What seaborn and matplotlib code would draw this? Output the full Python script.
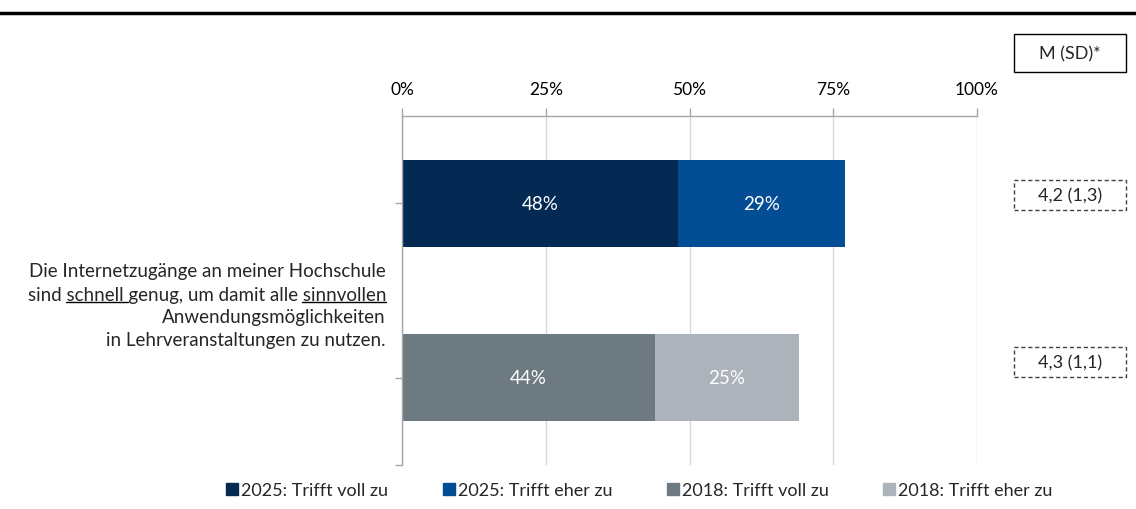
import matplotlib
matplotlib.use('agg')
import matplotlib.pyplot as plt
from matplotlib.lines import Line2D
from matplotlib.patches import Rectangle
import pandas as pd
import seaborn as sns

# data
years = ["2025", "2018"]
voll = [48, 44]   # Trifft voll zu
eher = [29, 25]   # Trifft eher zu
msd = ["4,2 (1,3)", "4,3 (1,1)"]
voll_colors = ["#042a54", "#6d7a82"]
eher_colors = ["#034d94", "#adb3ba"]
legend_labels = ["2025: Trifft voll zu", "2025: Trifft eher zu",
                 "2018: Trifft voll zu", "2018: Trifft eher zu"]
item_lines = ["Die Internetzugänge an meiner Hochschule",
              "sind schnell genug, um damit alle sinnvollen",
              "Anwendungsmöglichkeiten",
              "in Lehrveranstaltungen zu nutzen."]
underlined = {1: ["schnell ", "sinnvollen"]}
xticks = [0, 25, 50, 75, 100]

sns.set_theme(style="white")
plt.rcParams['font.family'] = ['Lato', 'DejaVu Sans']
FS = 13.5

df = pd.DataFrame({"year": years, "voll": voll, "eher": eher})
df["total"] = df["voll"] + df["eher"]

fig = plt.figure(figsize=(11.36, 5.10), dpi=100)
ax = fig.add_axes([402 / 1136, 1 - 466 / 510, 575 / 1136, 349 / 510])

# stacked bars: total first (eher colour), then voll on top
sns.barplot(data=df, x="total", y="year", hue="year", palette=eher_colors,
            width=0.5, legend=False, ax=ax, orient="h", saturation=1)
sns.barplot(data=df, x="voll", y="year", hue="year", palette=voll_colors,
            width=0.5, legend=False, ax=ax, orient="h", saturation=1)

n = len(years)
for i, cont in enumerate(ax.containers):
    src = eher if i < n else voll
    idx = i % n
    bar = cont.patches[0]
    bar.set_linewidth(0)
    # centre of the visible segment
    if i < n:
        xc = voll[idx] + eher[idx] / 2
    else:
        xc = voll[idx] / 2
    ax.text(xc, bar.get_y() + bar.get_height() / 2, f"{src[idx]}%",
            ha="center", va="center", color="white", fontsize=FS)

ax.set_xlim(0, 100)
ax.set_ylim(1.5, -0.5)
ax.xaxis.tick_top()
ax.set_xticks(xticks)
ax.set_xticklabels([f"{t}%" for t in xticks])
ax.set_yticks([0, 1, 1.5])
ax.set_yticklabels(["", "", ""])
ax.set_xlabel("")
ax.set_ylabel("")
ax.tick_params(axis="x", direction="out", length=6, width=1, color="#a6a6a6",
               pad=8, labelsize=12.5, colors="#a6a6a6", labelcolor="black")
ax.tick_params(axis="y", direction="out", length=5, width=1, color="#a6a6a6", left=True)
ax.grid(axis="x", color="#d9d9d9", linewidth=1)
ax.set_axisbelow(True)
for s in ["right", "bottom"]:
    ax.spines[s].set_visible(False)
for s in ["top", "left"]:
    ax.spines[s].set_color("#a6a6a6")
    ax.spines[s].set_linewidth(1)

# top rule
fig.add_artist(Line2D([0, 1], [1 - 14 / 510, 1 - 14 / 510], color="black", linewidth=2.5))

# item label, right-aligned with underlined words
fig.canvas.draw()
renderer = fig.canvas.get_renderer()
x_right = 386 / 1136
for k, line in enumerate(item_lines):
    y = 1 - (272 + 23 * k) / 510
    t = fig.text(x_right, y, line, ha="right", va="center", fontsize=FS)
    if k in underlined:
        bb = t.get_window_extent(renderer)
        for word in underlined[k]:
            pre = line[:line.index(word)]
            tp = fig.text(0, 0, pre, fontsize=FS)
            tw = fig.text(0, 0, word, fontsize=FS)
            w_pre = tp.get_window_extent(renderer).width if pre else 0
            w_word = tw.get_window_extent(renderer).width
            tp.remove()
            tw.remove()
            x0 = (bb.x0 + w_pre) / fig.bbox.width
            x1 = (bb.x0 + w_pre + w_word) / fig.bbox.width
            yl = (bb.y0 + 1) / fig.bbox.height
            fig.add_artist(Line2D([x0, x1], [yl, yl], color="black", linewidth=1))

# M (SD) boxes
bx, bw = 1014 / 1136, 112 / 1136
fig.add_artist(Rectangle((bx, 1 - 73 / 510), bw, 38 / 510, transform=fig.transFigure,
                         fill=False, edgecolor="black", linewidth=1))
fig.text(bx + bw / 2, 1 - 54 / 510, "M (SD)*", ha="center", va="center", fontsize=13)
for yc, val in zip([196, 363], msd):
    fig.add_artist(Rectangle((bx, 1 - (yc + 15) / 510), bw, 30 / 510, transform=fig.transFigure,
                             fill=False, edgecolor="#404040", linewidth=1, linestyle=(0, (3, 2))))
    fig.text(bx + bw / 2, 1 - yc / 510, val, ha="center", va="center", fontsize=13)

# legend
leg_colors = [voll_colors[0], eher_colors[0], voll_colors[1], eher_colors[1]]
handles = [Line2D([], [], marker="s", linestyle="none", markersize=9, color=c) for c in leg_colors]
fig.legend(handles, legend_labels, loc="center", bbox_to_anchor=(639 / 1136, 1 - 491 / 510),
           ncol=4, frameon=False, fontsize=13, handlelength=0.7, handletextpad=0.15,
           columnspacing=3.0)

fig.savefig("out.png", dpi=100)
